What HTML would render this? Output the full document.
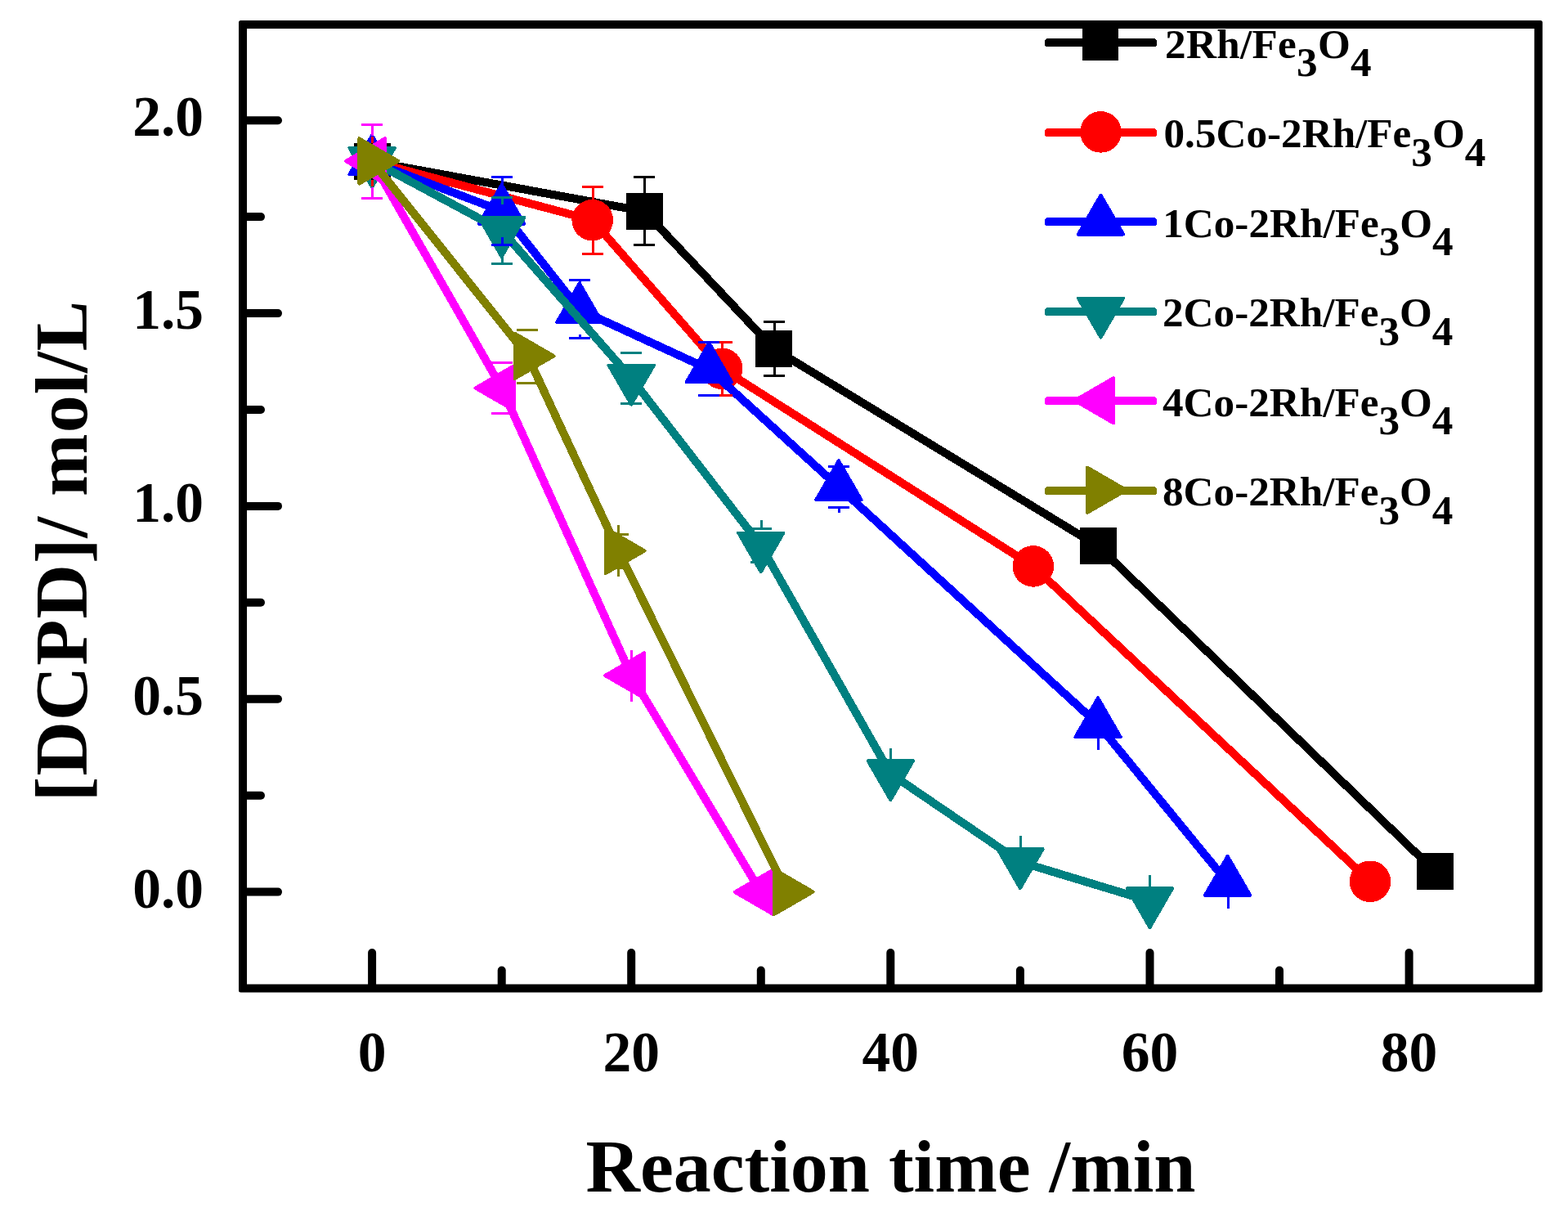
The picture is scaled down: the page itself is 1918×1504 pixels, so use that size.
<!DOCTYPE html>
<html lang="en">
<head>
<meta charset="utf-8">
<title>[DCPD] vs Reaction time</title>
<style>
html,body{margin:0;padding:0;background:#fff;}
body{width:1918px;height:1504px;overflow:hidden;}
svg{display:block;}
</style>
</head>
<body>
<svg width="1918" height="1504" viewBox="0 0 1918 1504" shape-rendering="crispEdges">
<rect x="0" y="0" width="1918" height="1504" fill="#ffffff"/>
<g id="plots">
<polyline points="455.1,197.5 788.1,258.4 946.6,426.5 1343.0,667.7 1755.3,1065.4" fill="none" stroke="#000000" stroke-width="10" stroke-linejoin="round"/>
<rect x="433" y="175" width="45" height="45" fill="#000000"/>
<rect x="766" y="236" width="45" height="45" fill="#000000"/>
<rect x="924" y="404" width="45" height="45" fill="#000000"/>
<rect x="1321" y="645" width="45" height="45" fill="#000000"/>
<rect x="1733" y="1043" width="45" height="45" fill="#000000"/>
<polyline points="455.1,197.5 724.7,269.2 883.2,450.8 1263.8,692.4 1676.0,1077.8" fill="none" stroke="#ff0000" stroke-width="10" stroke-linejoin="round"/>
<circle cx="455.1" cy="197.5" r="25.3" fill="#ff0000"/>
<circle cx="724.7" cy="269.2" r="25.3" fill="#ff0000"/>
<circle cx="883.2" cy="450.8" r="25.3" fill="#ff0000"/>
<circle cx="1263.8" cy="692.4" r="25.3" fill="#ff0000"/>
<circle cx="1676.0" cy="1077.8" r="25.3" fill="#ff0000"/>
<polyline points="455.1,197.7 613.7,258.0 708.8,378.5 867.4,451.5 1025.9,595.5 1343.0,885.5 1501.6,1079.0" fill="none" stroke="#0000ff" stroke-width="10" stroke-linejoin="round"/>
<polygon points="455.10,165.50 427.40,213.40 482.80,213.40" fill="#0000ff" stroke="#0000ff" stroke-width="4" stroke-linejoin="round"/>
<polygon points="613.66,225.80 585.96,273.70 641.36,273.70" fill="#0000ff" stroke="#0000ff" stroke-width="4" stroke-linejoin="round"/>
<polygon points="708.80,346.30 681.10,394.20 736.50,394.20" fill="#0000ff" stroke="#0000ff" stroke-width="4" stroke-linejoin="round"/>
<polygon points="867.36,419.30 839.66,467.20 895.06,467.20" fill="#0000ff" stroke="#0000ff" stroke-width="4" stroke-linejoin="round"/>
<polygon points="1025.92,563.30 998.22,611.20 1053.62,611.20" fill="#0000ff" stroke="#0000ff" stroke-width="4" stroke-linejoin="round"/>
<polygon points="1343.04,853.30 1315.34,901.20 1370.74,901.20" fill="#0000ff" stroke="#0000ff" stroke-width="4" stroke-linejoin="round"/>
<polygon points="1501.60,1046.80 1473.90,1094.70 1529.30,1094.70" fill="#0000ff" stroke="#0000ff" stroke-width="4" stroke-linejoin="round"/>
<polyline points="455.1,196.7 613.7,281.8 772.2,462.4 930.8,667.2 1089.3,946.0 1247.9,1053.9 1406.5,1101.9" fill="none" stroke="#008080" stroke-width="10" stroke-linejoin="round"/>
<polygon points="455.10,228.90 427.40,181.00 482.80,181.00" fill="#008080" stroke="#008080" stroke-width="4" stroke-linejoin="round"/>
<polygon points="613.66,314.00 585.96,266.10 641.36,266.10" fill="#008080" stroke="#008080" stroke-width="4" stroke-linejoin="round"/>
<polygon points="772.22,494.60 744.52,446.70 799.92,446.70" fill="#008080" stroke="#008080" stroke-width="4" stroke-linejoin="round"/>
<polygon points="930.78,699.40 903.08,651.50 958.48,651.50" fill="#008080" stroke="#008080" stroke-width="4" stroke-linejoin="round"/>
<polygon points="1089.34,978.20 1061.64,930.30 1117.04,930.30" fill="#008080" stroke="#008080" stroke-width="4" stroke-linejoin="round"/>
<polygon points="1247.90,1086.10 1220.20,1038.20 1275.60,1038.20" fill="#008080" stroke="#008080" stroke-width="4" stroke-linejoin="round"/>
<polygon points="1406.46,1134.10 1378.76,1086.20 1434.16,1086.20" fill="#008080" stroke="#008080" stroke-width="4" stroke-linejoin="round"/>
<rect x="775.0" y="215.4" width="26" height="3" fill="#000000"/><rect x="786.5" y="216.9" width="3" height="19.5" fill="#000000"/><rect x="775.0" y="298.4" width="26" height="3" fill="#000000"/><rect x="786.5" y="280.4" width="3" height="19.5" fill="#000000"/>
<rect x="934.0" y="392.0" width="26" height="3" fill="#000000"/><rect x="945.5" y="393.5" width="3" height="11.0" fill="#000000"/><rect x="934.0" y="458.0" width="26" height="3" fill="#000000"/><rect x="945.5" y="448.5" width="3" height="11.0" fill="#000000"/>
<rect x="712.0" y="226.7" width="26" height="3" fill="#ff0000"/><rect x="723.5" y="228.2" width="3" height="16.0" fill="#ff0000"/><rect x="712.0" y="308.7" width="26" height="3" fill="#ff0000"/><rect x="723.5" y="294.2" width="3" height="16.0" fill="#ff0000"/>
<rect x="870.0" y="416.8" width="26" height="3" fill="#ff0000"/><rect x="881.5" y="418.3" width="3" height="7.5" fill="#ff0000"/><rect x="870.0" y="481.8" width="26" height="3" fill="#ff0000"/><rect x="881.5" y="475.8" width="3" height="7.5" fill="#ff0000"/>
<rect x="601.0" y="215.0" width="26" height="3" fill="#0000ff"/><rect x="612.5" y="216.5" width="3" height="10.0" fill="#0000ff"/><rect x="601.0" y="298.0" width="26" height="3" fill="#0000ff"/><rect x="612.5" y="289.5" width="3" height="10.0" fill="#0000ff"/>
<rect x="696.0" y="340.7" width="26" height="3" fill="#0000ff"/><rect x="707.5" y="342.2" width="3" height="4.0" fill="#0000ff"/><rect x="696.0" y="411.7" width="26" height="3" fill="#0000ff"/><rect x="707.5" y="409.2" width="3" height="4.0" fill="#0000ff"/>
<rect x="854.0" y="417.0" width="26" height="3" fill="#0000ff"/><rect x="865.5" y="418.5" width="3" height="1.0" fill="#0000ff"/><rect x="854.0" y="482.0" width="26" height="3" fill="#0000ff"/><rect x="865.5" y="482.5" width="3" height="1.0" fill="#0000ff"/>
<rect x="1013.0" y="569.0" width="26" height="3" fill="#0000ff"/><rect x="1024.5" y="564.0" width="3" height="6.5" fill="#0000ff"/><rect x="1013.0" y="619.0" width="26" height="3" fill="#0000ff"/><rect x="1024.5" y="620.5" width="3" height="6.5" fill="#0000ff"/>
<rect x="1330.0" y="879.0" width="26" height="3" fill="#0000ff"/><rect x="1341.5" y="854.0" width="3" height="26.5" fill="#0000ff"/><rect x="1330.0" y="889.0" width="26" height="3" fill="#0000ff"/><rect x="1341.5" y="890.5" width="3" height="26.5" fill="#0000ff"/>
<rect x="1489.0" y="1072.5" width="26" height="3" fill="#0000ff"/><rect x="1500.5" y="1047.5" width="3" height="26.5" fill="#0000ff"/><rect x="1489.0" y="1082.5" width="26" height="3" fill="#0000ff"/><rect x="1500.5" y="1084.0" width="3" height="26.5" fill="#0000ff"/>
<rect x="601.0" y="239.8" width="26" height="3" fill="#008080"/><rect x="612.5" y="241.3" width="3" height="9.0" fill="#008080"/><rect x="601.0" y="320.8" width="26" height="3" fill="#008080"/><rect x="612.5" y="313.3" width="3" height="9.0" fill="#008080"/>
<rect x="759.0" y="429.9" width="26" height="3" fill="#008080"/><rect x="770.5" y="430.9" width="3" height="0.5" fill="#008080"/><rect x="759.0" y="491.9" width="26" height="3" fill="#008080"/><rect x="770.5" y="493.4" width="3" height="0.5" fill="#008080"/>
<rect x="918.0" y="645.2" width="26" height="3" fill="#008080"/><rect x="929.5" y="635.7" width="3" height="11.0" fill="#008080"/><rect x="918.0" y="686.2" width="26" height="3" fill="#008080"/><rect x="929.5" y="687.7" width="3" height="11.0" fill="#008080"/>
<rect x="1076.0" y="939.5" width="26" height="3" fill="#008080"/><rect x="1087.5" y="914.5" width="3" height="26.5" fill="#008080"/><rect x="1076.0" y="949.5" width="26" height="3" fill="#008080"/><rect x="1087.5" y="951.0" width="3" height="26.5" fill="#008080"/>
<rect x="1235.0" y="1047.4" width="26" height="3" fill="#008080"/><rect x="1246.5" y="1022.4" width="3" height="26.5" fill="#008080"/><rect x="1235.0" y="1057.4" width="26" height="3" fill="#008080"/><rect x="1246.5" y="1058.9" width="3" height="26.5" fill="#008080"/>
<rect x="1393.0" y="1095.4" width="26" height="3" fill="#008080"/><rect x="1404.5" y="1070.4" width="3" height="26.5" fill="#008080"/><rect x="1393.0" y="1105.4" width="26" height="3" fill="#008080"/><rect x="1404.5" y="1106.9" width="3" height="26.5" fill="#008080"/>
<rect x="453.5" y="166.5" width="3" height="9" fill="#ff0000"/><rect x="453.5" y="175" width="3" height="3" fill="#000000"/>
<rect x="453.5" y="220" width="3" height="7.5" fill="#ff0000"/><rect x="453.5" y="216.5" width="3" height="3.5" fill="#000000"/>
<polyline points="455.1,197.0 613.7,474.5 772.2,826.0 930.8,1090.8" fill="none" stroke="#ff00ff" stroke-width="10" stroke-linejoin="round"/>
<polygon points="422.90,197.00 470.80,169.30 470.80,224.70" fill="#ff00ff" stroke="#ff00ff" stroke-width="4" stroke-linejoin="round"/>
<polygon points="581.46,474.50 629.36,446.80 629.36,502.20" fill="#ff00ff" stroke="#ff00ff" stroke-width="4" stroke-linejoin="round"/>
<polygon points="740.02,826.00 787.92,798.30 787.92,853.70" fill="#ff00ff" stroke="#ff00ff" stroke-width="4" stroke-linejoin="round"/>
<polygon points="898.58,1090.80 946.48,1063.10 946.48,1118.50" fill="#ff00ff" stroke="#ff00ff" stroke-width="4" stroke-linejoin="round"/>
<rect x="442.0" y="150.5" width="26" height="3" fill="#ff00ff"/><rect x="453.5" y="152.0" width="3" height="13.5" fill="#ff00ff"/><rect x="442.0" y="240.5" width="26" height="3" fill="#ff00ff"/><rect x="453.5" y="228.5" width="3" height="13.5" fill="#ff00ff"/>
<rect x="601.0" y="442.0" width="26" height="3" fill="#ff00ff"/><rect x="612.5" y="443.0" width="3" height="0.5" fill="#ff00ff"/><rect x="601.0" y="504.0" width="26" height="3" fill="#ff00ff"/><rect x="612.5" y="505.5" width="3" height="0.5" fill="#ff00ff"/>
<rect x="759.0" y="819.5" width="26" height="3" fill="#ff00ff"/><rect x="770.5" y="794.5" width="3" height="26.5" fill="#ff00ff"/><rect x="759.0" y="829.5" width="26" height="3" fill="#ff00ff"/><rect x="770.5" y="831.0" width="3" height="26.5" fill="#ff00ff"/>
<polyline points="455.1,197.0 645.4,435.3 756.4,673.5 962.5,1090.5" fill="none" stroke="#808000" stroke-width="10" stroke-linejoin="round"/>
<polygon points="487.30,197.00 439.40,169.30 439.40,224.70" fill="#808000" stroke="#808000" stroke-width="4" stroke-linejoin="round"/>
<polygon points="677.57,435.30 629.67,407.60 629.67,463.00" fill="#808000" stroke="#808000" stroke-width="4" stroke-linejoin="round"/>
<polygon points="788.56,673.50 740.66,645.80 740.66,701.20" fill="#808000" stroke="#808000" stroke-width="4" stroke-linejoin="round"/>
<polygon points="994.69,1090.50 946.79,1062.80 946.79,1118.20" fill="#808000" stroke="#808000" stroke-width="4" stroke-linejoin="round"/>
<rect x="632.0" y="402.3" width="26" height="3" fill="#808000"/><rect x="643.5" y="403.8" width="3" height="1.0" fill="#808000"/><rect x="632.0" y="467.3" width="26" height="3" fill="#808000"/><rect x="643.5" y="467.8" width="3" height="1.0" fill="#808000"/>
<rect x="743.0" y="651.5" width="26" height="3" fill="#808000"/><rect x="754.5" y="642.0" width="3" height="11.0" fill="#808000"/><rect x="743.0" y="692.5" width="26" height="3" fill="#808000"/><rect x="754.5" y="694.0" width="3" height="11.0" fill="#808000"/>
<polygon points="487.30,197.00 439.40,169.30 439.40,224.70" fill="#808000" stroke="#808000" stroke-width="4" stroke-linejoin="round"/>
</g>
<g id="axes" stroke="#000" stroke-width="10" fill="none" stroke-linecap="round" shape-rendering="geometricPrecision">
<path d="M294.5,25 H1884.3 Q1886.8,25 1886.8,27.5 V1211.0 Q1886.8,1213.5 1884.3,1213.5 H294.5 Q292,1213.5 292,1211.0 V27.5 Q292,25 294.5,25 Z M302,35 V1203.5 H1876.8 V35 Z" fill="#000" fill-rule="evenodd" stroke="none"/>
<line x1="300" y1="1090.6" x2="340" y2="1090.6"/>
<line x1="300" y1="972.7" x2="319" y2="972.7"/>
<line x1="300" y1="854.7" x2="340" y2="854.7"/>
<line x1="300" y1="736.8" x2="319" y2="736.8"/>
<line x1="300" y1="618.9" x2="340" y2="618.9"/>
<line x1="300" y1="501.0" x2="319" y2="501.0"/>
<line x1="300" y1="383.1" x2="340" y2="383.1"/>
<line x1="300" y1="265.1" x2="319" y2="265.1"/>
<line x1="300" y1="147.2" x2="340" y2="147.2"/>
<line x1="455.1" y1="1205.5" x2="455.1" y2="1165.0"/>
<line x1="613.7" y1="1205.5" x2="613.7" y2="1186.5"/>
<line x1="772.2" y1="1205.5" x2="772.2" y2="1165.0"/>
<line x1="930.8" y1="1205.5" x2="930.8" y2="1186.5"/>
<line x1="1089.3" y1="1205.5" x2="1089.3" y2="1165.0"/>
<line x1="1247.9" y1="1205.5" x2="1247.9" y2="1186.5"/>
<line x1="1406.5" y1="1205.5" x2="1406.5" y2="1165.0"/>
<line x1="1565.0" y1="1205.5" x2="1565.0" y2="1186.5"/>
<line x1="1723.6" y1="1205.5" x2="1723.6" y2="1165.0"/>
</g>
<g id="ticklabels" font-family="'Liberation Serif', serif" font-weight="bold" fill="#000" font-size="69.5px">
<text x="249" y="1109.8" text-anchor="end">0.0</text>
<text x="249" y="873.9" text-anchor="end">0.5</text>
<text x="249" y="638.1" text-anchor="end">1.0</text>
<text x="249" y="402.2" text-anchor="end">1.5</text>
<text x="249" y="166.4" text-anchor="end">2.0</text>
<text x="455.1" y="1310" text-anchor="middle">0</text>
<text x="772.2" y="1310" text-anchor="middle">20</text>
<text x="1089.3" y="1310" text-anchor="middle">40</text>
<text x="1406.5" y="1310" text-anchor="middle">60</text>
<text x="1723.6" y="1310" text-anchor="middle">80</text>
</g>
<g id="titles" font-family="'Liberation Serif', serif" font-weight="bold" fill="#000" font-size="92px">
<text x="1089.5" y="1456.5" text-anchor="middle">Reaction time /min</text>
<text transform="translate(106,673.5) rotate(-90)" text-anchor="middle" letter-spacing="1">[DCPD]/ mol/L</text>
</g>
<g id="legend">
<rect x="1278" y="47" width="137" height="10" rx="3.5" ry="3.5" fill="#000000"/>
<rect x="1324" y="29" width="44" height="45" fill="#000000"/>
<text x="1425.0" y="70.8" font-family="'Liberation Serif', serif" font-weight="bold" fill="#000" font-size="51.2px" letter-spacing="0.3">2Rh/Fe<tspan dy="22.5">3</tspan><tspan dy="-22.5">O</tspan><tspan dy="22.5">4</tspan></text>
<rect x="1278" y="157" width="137" height="10" rx="3.5" ry="3.5" fill="#ff0000"/>
<circle cx="1346.5" cy="161.4" r="25.3" fill="#ff0000"/>
<text x="1423.5" y="180.2" font-family="'Liberation Serif', serif" font-weight="bold" fill="#000" font-size="51.2px">0.5Co-2Rh/Fe<tspan dy="22.5">3</tspan><tspan dy="-22.5">O</tspan><tspan dy="22.5">4</tspan></text>
<rect x="1278" y="266" width="137" height="10" rx="3.5" ry="3.5" fill="#0000ff"/>
<polygon points="1346.50,238.70 1318.80,286.60 1374.20,286.60" fill="#0000ff" stroke="#0000ff" stroke-width="4" stroke-linejoin="round"/>
<text x="1422.2" y="289.7" font-family="'Liberation Serif', serif" font-weight="bold" fill="#000" font-size="51.2px">1Co-2Rh/Fe<tspan dy="22.5">3</tspan><tspan dy="-22.5">O</tspan><tspan dy="22.5">4</tspan></text>
<rect x="1278" y="376" width="137" height="10" rx="3.5" ry="3.5" fill="#008080"/>
<polygon points="1346.50,412.55 1318.80,364.65 1374.20,364.65" fill="#008080" stroke="#008080" stroke-width="4" stroke-linejoin="round"/>
<text x="1422.0" y="399.2" font-family="'Liberation Serif', serif" font-weight="bold" fill="#000" font-size="51.2px">2Co-2Rh/Fe<tspan dy="22.5">3</tspan><tspan dy="-22.5">O</tspan><tspan dy="22.5">4</tspan></text>
<rect x="1278" y="485" width="137" height="10" rx="3.5" ry="3.5" fill="#ff00ff"/>
<polygon points="1314.30,489.80 1362.20,462.10 1362.20,517.50" fill="#ff00ff" stroke="#ff00ff" stroke-width="4" stroke-linejoin="round"/>
<text x="1422.0" y="508.6" font-family="'Liberation Serif', serif" font-weight="bold" fill="#000" font-size="51.2px">4Co-2Rh/Fe<tspan dy="22.5">3</tspan><tspan dy="-22.5">O</tspan><tspan dy="22.5">4</tspan></text>
<rect x="1278" y="595" width="137" height="10" rx="3.5" ry="3.5" fill="#808000"/>
<polygon points="1377.90,599.25 1330.00,571.55 1330.00,626.95" fill="#808000" stroke="#808000" stroke-width="4" stroke-linejoin="round"/>
<text x="1422.0" y="618.0" font-family="'Liberation Serif', serif" font-weight="bold" fill="#000" font-size="51.2px">8Co-2Rh/Fe<tspan dy="22.5">3</tspan><tspan dy="-22.5">O</tspan><tspan dy="22.5">4</tspan></text>
</g>
<line x1="297" y1="30" x2="1881.8" y2="30" stroke="#000" stroke-width="10"/>
</svg>
</body>
</html>
